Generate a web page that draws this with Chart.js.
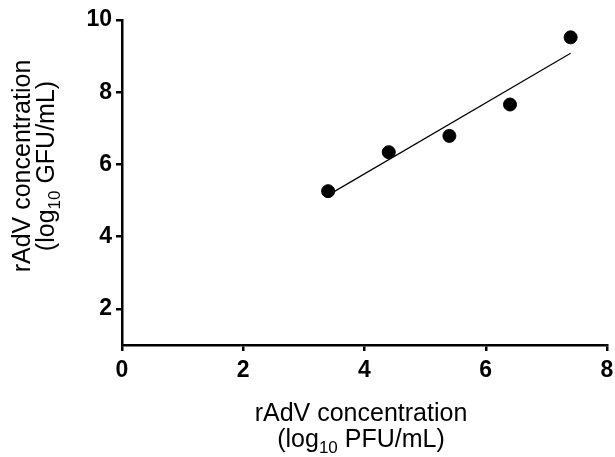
<!DOCTYPE html>
<html>
<head>
<meta charset="utf-8">
<script src="https://cdn.jsdelivr.net/npm/chart.js@4/dist/chart.umd.min.js"></script>
<style>
  html, body { margin: 0; padding: 0; background: #fff; }
  #wrap { width: 615px; height: 457px; }
</style>
</head>
<body>
<div id="wrap"><canvas id="chart"></canvas></div>
<script>
const pfuValues = [3.4, 4.4, 5.4, 6.4, 7.4];
const gfuValues = [5.26, 6.34, 6.79, 7.66, 9.52];

// Fitted line end points
const fitX = [3.4, 7.4];
const fitY = [5.15, 9.08];

// Axis ticks
const xTicks = [0, 2, 4, 6, 8];
const yTicks = [2, 4, 6, 8, 10];

const tickFont = { family: '"Liberation Sans", Arial, sans-serif', size: 23, weight: 'bold' };
const titleFont = '"Liberation Sans", Arial, sans-serif';

// Draw a title line with "log" + subscript "10"
function drawSubText(ctx, parts, x, y) {
    // measure total width
    let total = 0;
    parts.forEach(p => {
        ctx.font = (p.sub ? '17px ' : '25px ') + titleFont;
        total += ctx.measureText(p.text).width;
    });
    let cx = x - total / 2;
    parts.forEach(p => {
        ctx.font = (p.sub ? '17px ' : '25px ') + titleFont;
        ctx.fillText(p.text, cx, p.sub ? y + 6 : y);
        cx += ctx.measureText(p.text).width;
    });
}

const axisTitles = {
    id: 'axisTitles',
    afterDraw(chart) {
        const ctx = chart.ctx;
        ctx.save();
        ctx.fillStyle = '#000';
        ctx.textBaseline = 'alphabetic';
        ctx.textAlign = 'left';

        // x title
        drawSubText(ctx, [{ text: 'rAdV concentration' }], 361, 421);
        drawSubText(ctx, [{ text: '(log' }, { text: '10', sub: true }, { text: ' PFU/mL)' }], 361, 447);

        // y title
        ctx.translate(0, 166);
        ctx.rotate(-Math.PI / 2);
        drawSubText(ctx, [{ text: 'rAdV concentration' }], 0, 30);
        drawSubText(ctx, [{ text: '(log' }, { text: '10', sub: true }, { text: ' GFU/mL)' }], 0, 54);
        ctx.restore();
    }
};

const ctx = document.getElementById('chart').getContext('2d');
new Chart(ctx, {
    type: 'scatter',
    data: {
        datasets: [{
            label: 'data',
            data: pfuValues.map((x, i) => ({ x: x, y: gfuValues[i] })),
            backgroundColor: '#000',
            borderColor: '#000',
            pointRadius: 6.5,
            pointHoverRadius: 6.5
        }, {
            type: 'line',
            label: 'fit',
            data: fitX.map((x, i) => ({ x: x, y: fitY[i] })),
            borderColor: '#000',
            borderWidth: 1.2,
            pointRadius: 0,
            fill: false
        }]
    },
    options: {
        responsive: true,
        maintainAspectRatio: false,
        animation: false,
        layout: { padding: { top: 20, right: 8, left: 0, bottom: 0 } },
        plugins: {
            legend: { display: false },
            tooltip: { enabled: false }
        },
        scales: {
            x: {
                type: 'linear',
                min: 0,
                max: 8,
                afterBuildTicks: scale => { scale.ticks = xTicks.map(v => ({ value: v })); },
                afterFit: scale => {
                    scale.height = 112;
                    scale.paddingLeft = 0;
                    scale.paddingRight = 0;
                },
                border: { color: '#000', width: 2.5 },
                grid: { drawOnChartArea: false, drawTicks: true, tickLength: 6, color: '#000', lineWidth: 2.5 },
                ticks: { color: '#000', font: tickFont, padding: 6 }
            },
            y: {
                type: 'linear',
                min: 1,
                max: 10,
                afterBuildTicks: scale => { scale.ticks = yTicks.map(v => ({ value: v })); },
                afterFit: scale => {
                    scale.width = 122;
                    scale.paddingTop = 0;
                    scale.paddingBottom = 0;
                },
                border: { color: '#000', width: 2.5 },
                grid: { drawOnChartArea: false, drawTicks: true, tickLength: 6, color: '#000', lineWidth: 2.5 },
                ticks: { color: '#000', font: tickFont, padding: 4 }
            }
        }
    },
    plugins: [axisTitles]
});
</script>
</body>
</html>
